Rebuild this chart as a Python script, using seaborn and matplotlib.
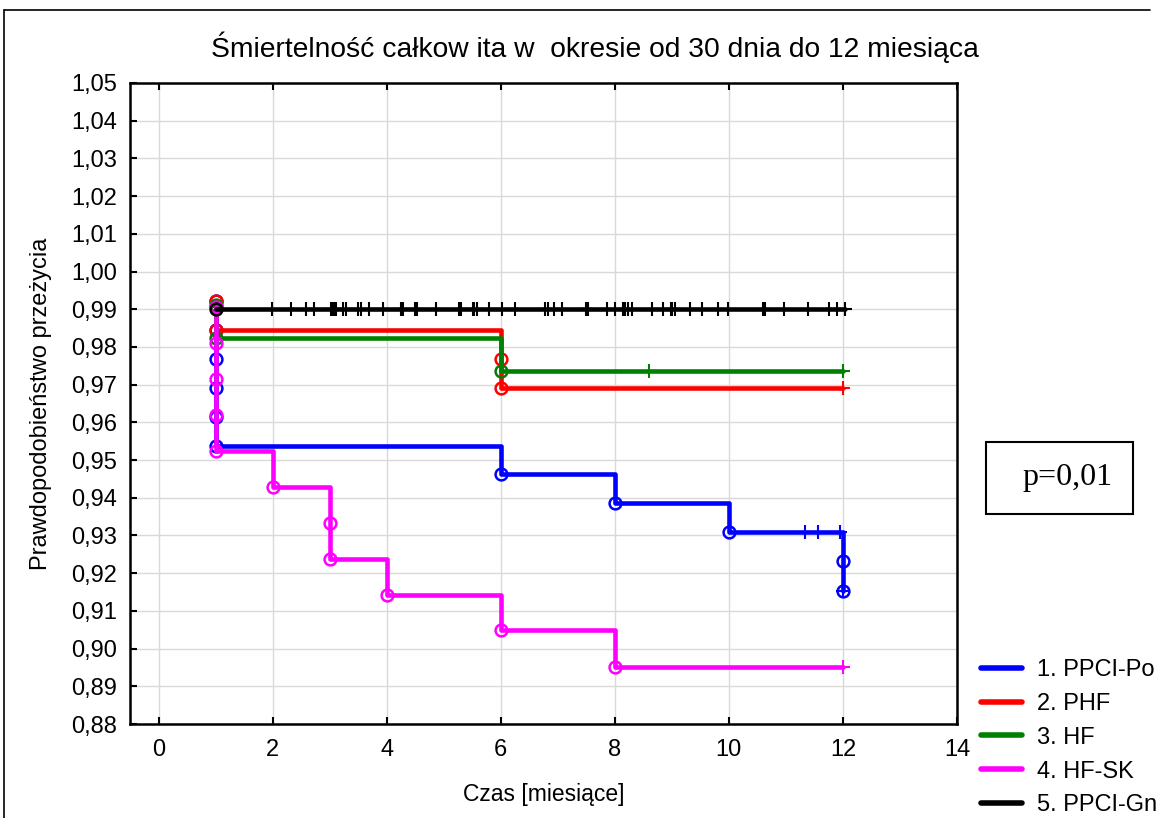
import numpy as np
import pandas as pd
import matplotlib
matplotlib.use("Agg")
import matplotlib.pyplot as plt
import seaborn as sns
from matplotlib.lines import Line2D
from matplotlib.ticker import FuncFormatter

# ---------------- data ----------------
groups = ["1. PPCI-Po", "2. PHF", "3. HF", "4. HF-SK", "5. PPCI-Gn"]
colors = ["#0000ff", "#ff0000", "#008000", "#ff00ff", "#000000"]

blue_event_t = [1, 1, 1, 1, 1, 1, 6, 8, 10, 12, 12]
blue_event_s = [0.9923, 0.9846, 0.9769, 0.9692, 0.9615, 0.9538, 0.9462, 0.9385, 0.9308, 0.9231, 0.9154]
blue_cens_t = [11.34, 11.57, 11.94, 12.0]

red_event_t = [1, 1, 6, 6]
red_event_s = [0.9923, 0.9846, 0.9769, 0.9692]
red_cens_t = [12.0]

green_event_t = [1, 1, 6]
green_event_s = [0.9912, 0.9823, 0.9735]
green_cens_t = [8.6, 12.0]

mag_event_t = [1, 1, 1, 1, 1, 2, 3, 3, 4, 6, 8]
mag_event_s = [0.9905, 0.9810, 0.9714, 0.9619, 0.9524, 0.9429, 0.9333, 0.9238, 0.9143, 0.9048, 0.8952]
mag_cens_t = [12.0]

black_event_t = [1]
black_event_s = [0.99]
black_cens_t = [1.99, 2.32, 2.59, 2.73, 3.02, 3.05, 3.08, 3.11, 3.24, 3.28, 3.49, 3.55,
                3.69, 3.94, 4.25, 4.28, 4.49, 4.54, 4.87, 5.27, 5.31, 5.51, 5.54, 5.58,
                5.79, 6.02, 6.25, 6.77, 6.83, 6.94, 7.08, 7.50, 7.53, 7.87, 8.01, 8.14,
                8.18, 8.23, 8.30, 8.66, 8.84, 8.98, 9.01, 9.05, 9.31, 9.53, 9.81, 9.99,
                10.60, 10.64, 10.97, 11.38, 11.76, 11.90, 12.03]

event_t = [blue_event_t, red_event_t, green_event_t, mag_event_t, black_event_t]
event_s = [blue_event_s, red_event_s, green_event_s, mag_event_s, black_event_s]
cens_t = [blue_cens_t, red_cens_t, green_cens_t, mag_cens_t, black_cens_t]

y_ticks = [0.88, 0.89, 0.90, 0.91, 0.92, 0.93, 0.94, 0.95, 0.96, 0.97, 0.98, 0.99,
           1.00, 1.01, 1.02, 1.03, 1.04, 1.05]
x_ticks = [0, 2, 4, 6, 8, 10, 12, 14]

title = "Śmiertelność całkow ita w  okresie od 30 dnia do 12 miesiąca"
xlabel = "Czas [miesiące]"
ylabel = "Prawdopodobieństwo przeżycia"
p_text = "p=0,01"

# ---------------- style ----------------
sns.set_style("white")
plt.rcParams["font.family"] = ["Liberation Sans", "DejaVu Sans"]
plt.rcParams["text.color"] = "black"
plt.rcParams["axes.labelcolor"] = "black"

W, H = 1164, 818
fig = plt.figure(figsize=(W / 100, H / 100), dpi=100)
ax = fig.add_axes([130 / W, 1 - 724 / H, (957 - 130) / W, (724 - 83) / H])

lw = 3.3
for i, g in enumerate(groups):
    t = list(event_t[i])
    s = list(event_s[i])
    end_t = max(max(t), max(cens_t[i]))
    line_df = pd.DataFrame({"t": t + [end_t], "s": s + [s[-1]]})
    sns.lineplot(data=line_df, x="t", y="s", estimator=None, sort=False,
                 drawstyle="steps-post", color=colors[i], lw=lw, ax=ax,
                 zorder=3 + i)
    # event circles
    ax.plot(t, s, ls="none", marker="o", ms=8.5, mfc="none", mec=colors[i],
            mew=1.8, zorder=3 + i)
    # censored marks at the step-function value
    ct = np.array(cens_t[i])
    tt = np.array(t)
    ss = np.array(s)
    cs = [ss[tt <= c][-1] for c in ct]
    ax.plot(ct, cs, ls="none", marker="+", ms=10.5, mec=colors[i], mew=1.5,
            zorder=3 + i)

ax.set_xlim(-0.5, 14)
ax.set_ylim(0.88, 1.05)
ax.set_xticks(x_ticks)
ax.set_yticks(y_ticks)
ax.yaxis.set_major_formatter(FuncFormatter(lambda v, p: f"{v:.2f}".replace(".", ",")))
ax.xaxis.set_major_formatter(FuncFormatter(lambda v, p: f"{v:.0f}"))
ax.grid(True, color="#d9d9d9", lw=1.0, zorder=0)
ax.set_axisbelow(True)
for sp in ax.spines.values():
    sp.set_color("black")
    sp.set_linewidth(1.8)
ax.tick_params(axis="both", direction="in", length=5, width=1.5, labelsize=17,
               top=True, right=False, bottom=True, left=True, colors="black")
ax.tick_params(axis="y", pad=9)
ax.tick_params(axis="x", pad=11)
ax.set_xlabel(xlabel, fontsize=16.5, labelpad=16)
ax.set_ylabel(ylabel, fontsize=17, labelpad=14)

fig.text(595 / W, 1 - 47 / H, title, ha="center", va="center", fontsize=20.3)

# p-value box
fig.text(1067 / W, 1 - 478 / H, p_text, ha="center", va="center", fontsize=23,
         family=["Liberation Serif", "DejaVu Serif"])
fig.patches.append(plt.Rectangle((986 / W, 1 - 514 / H), (1133 - 986) / W, (514 - 442) / H,
                                 transform=fig.transFigure, fill=False,
                                 edgecolor="black", lw=1.5))

# outer frame lines
fig.lines.append(Line2D([4 / W, 4 / W], [0, 1 - 10 / H], transform=fig.transFigure,
                        color="black", lw=1.2))
fig.lines.append(Line2D([4 / W, 1150 / W], [1 - 10 / H, 1 - 10 / H], transform=fig.transFigure,
                        color="black", lw=1.2))

handles = [Line2D([0], [0], color=c, lw=4) for c in colors]
fig.legend(handles, groups, loc="upper left", bbox_to_anchor=(974 / W, 1 - 652 / H),
           frameon=False, fontsize=17, handlelength=1.75, handletextpad=0.6,
           labelspacing=0.5, borderaxespad=0, borderpad=0.3)

fig.savefig("out.png", dpi=100)
